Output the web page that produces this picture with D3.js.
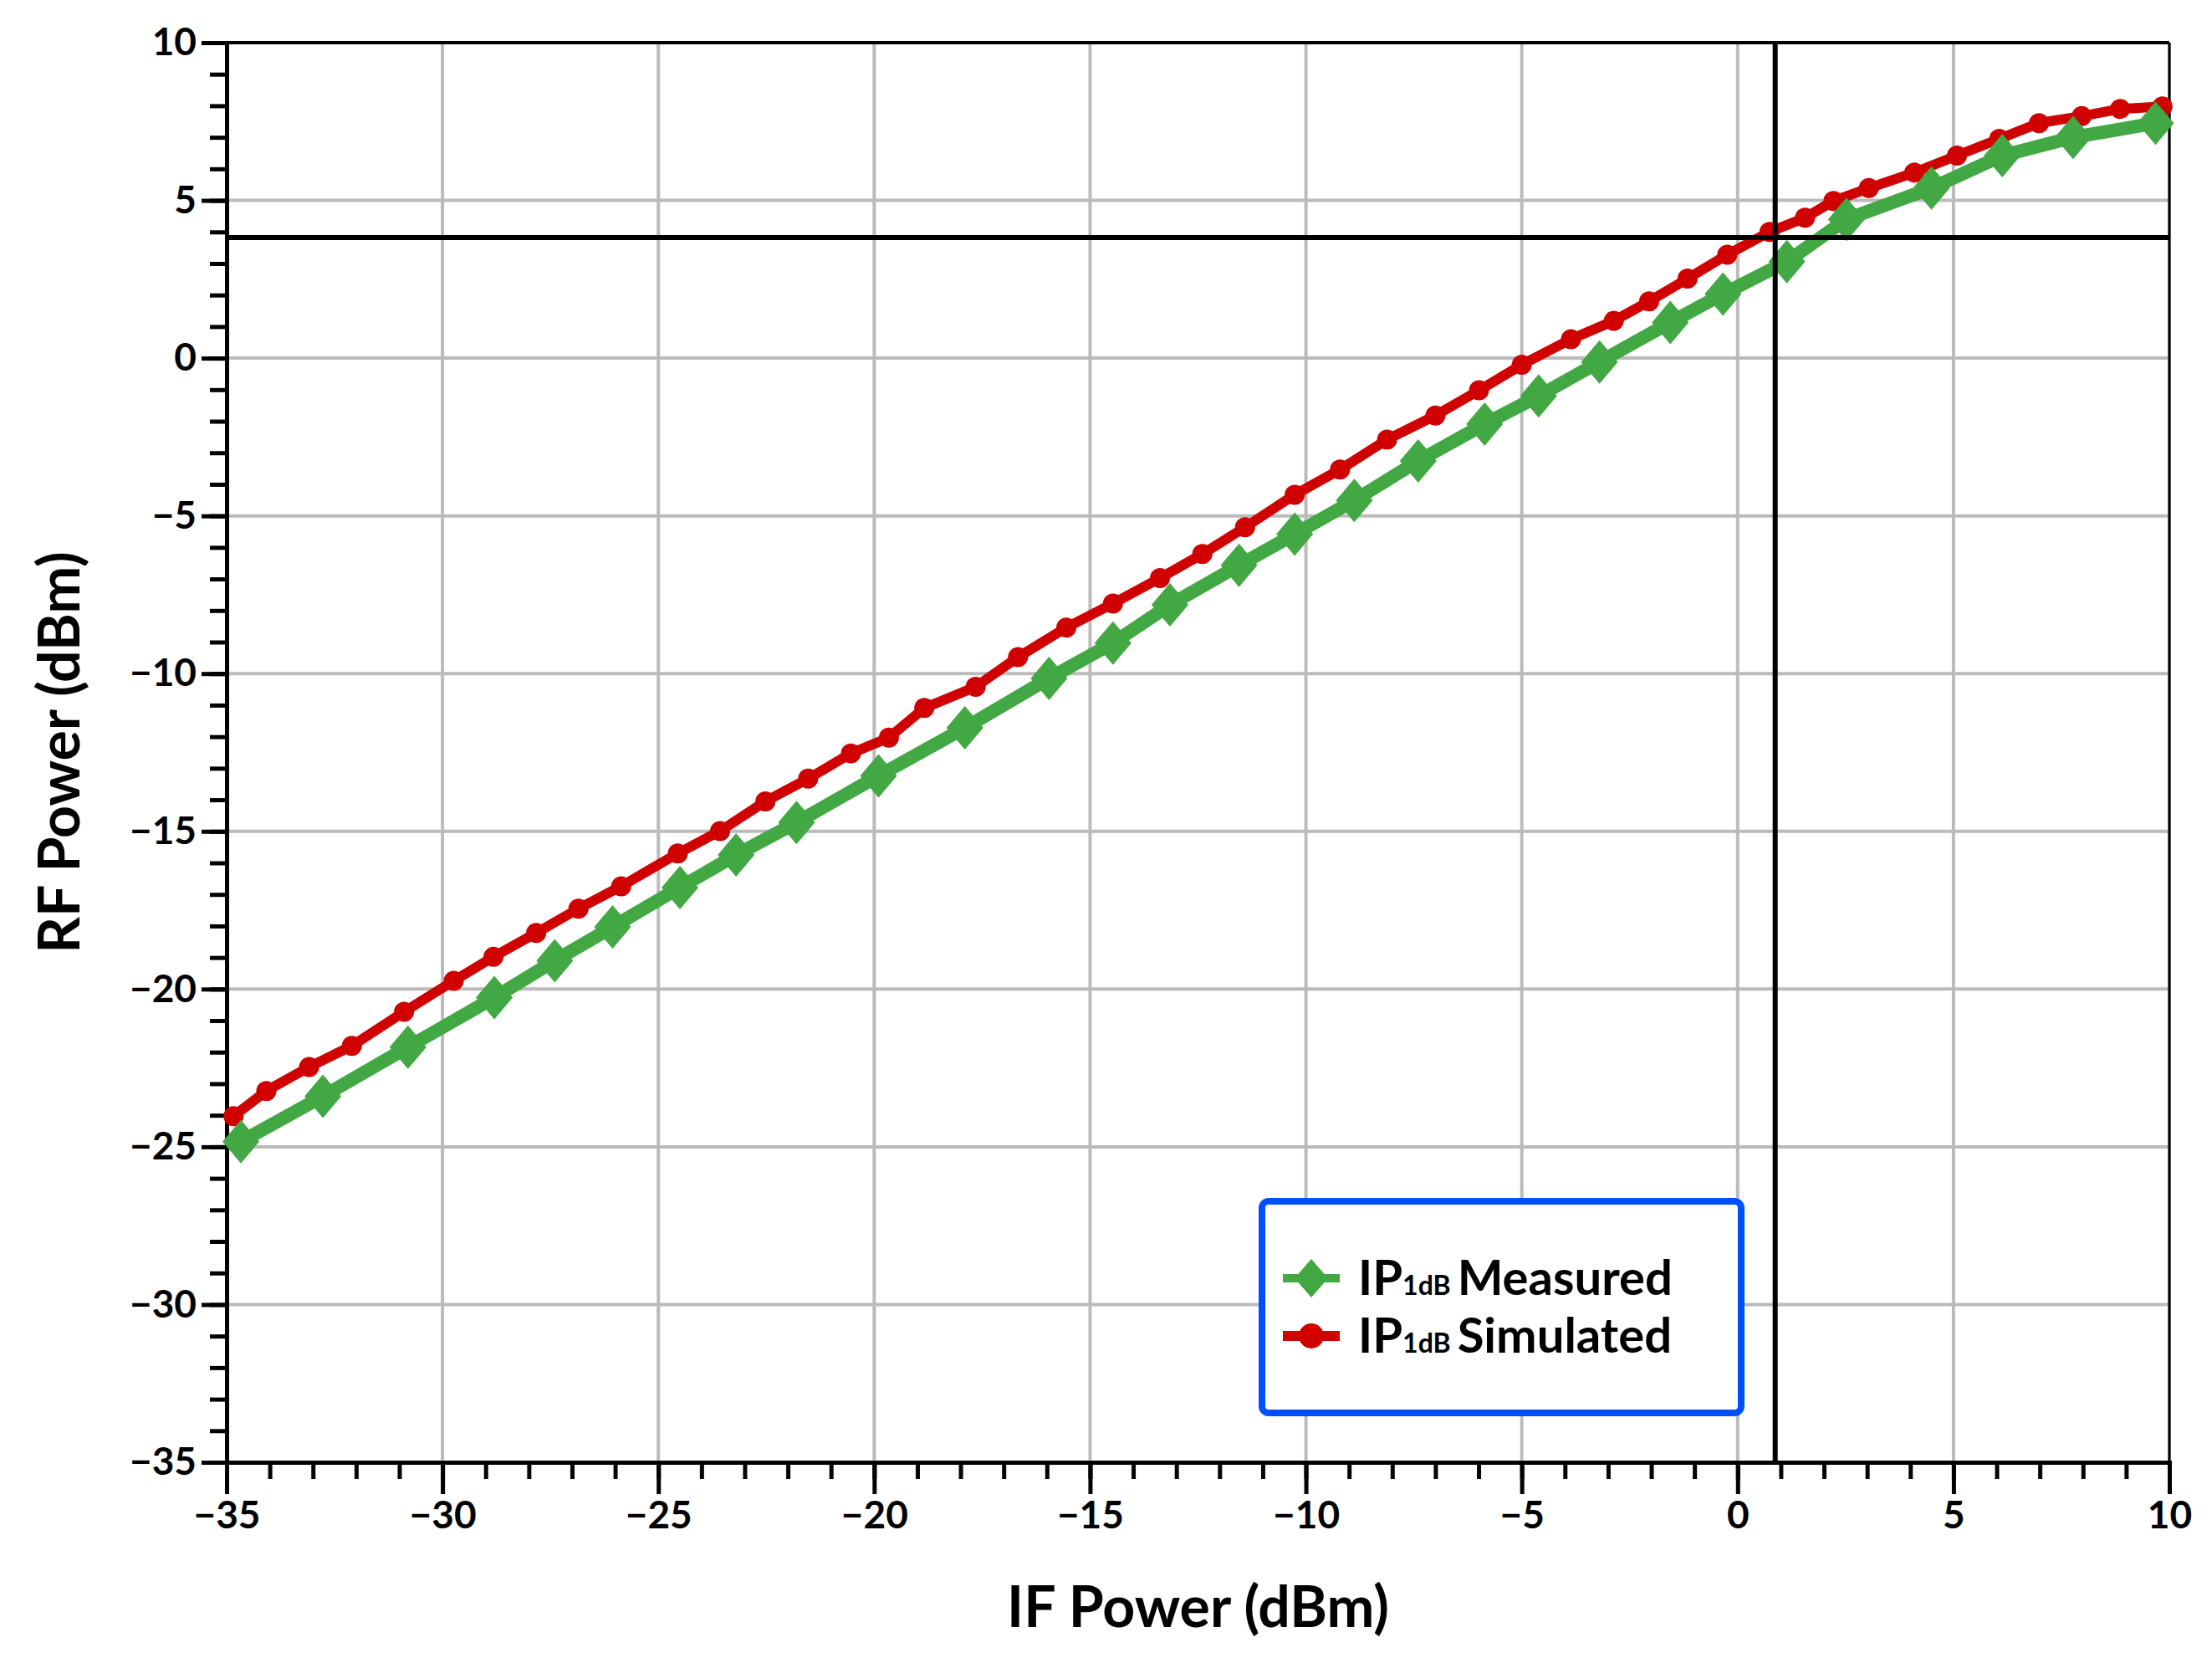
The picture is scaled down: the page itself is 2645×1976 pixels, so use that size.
<!DOCTYPE html>
<html>
<head>
<meta charset="utf-8">
<script src="https://cdn.jsdelivr.net/npm/d3@7"></script>
<style>
  body { margin: 0; background: #fff; }
  text { font-family: Lato, "Open Sans", sans-serif; font-weight: bold; }
</style>
</head>
<body>
<svg id="chart" width="2645" height="1976"></svg>
<script>
// measured IP1dB (green diamonds)
const measuredX = [-34.67, -32.77, -30.8, -28.8, -27.4, -26.06, -24.5, -23.2, -21.8, -19.9, -17.9, -15.95, -14.47, -13.15, -11.55, -10.26, -8.88, -7.4, -5.86, -4.61, -3.2, -1.56, -0.34, 1.14, 2.52, 4.49, 6.13, 7.77, 9.68];
const measuredY = [-24.84, -23.4, -21.84, -20.27, -19.1, -18.03, -16.78, -15.75, -14.72, -13.24, -11.72, -10.15, -9.03, -7.82, -6.57, -5.58, -4.51, -3.26, -2.09, -1.2, -0.12, 1.13, 2.03, 3.06, 4.4, 5.39, 6.42, 7.0, 7.45];

// simulated IP1dB (red dots)
const simulatedX = [-34.84, -34.08, -33.09, -32.1, -30.89, -29.74, -28.82, -27.83, -26.85, -25.86, -24.55, -23.57, -22.52, -21.53, -20.54, -19.66, -18.84, -17.65, -16.67, -15.55, -14.47, -13.38, -12.4, -11.41, -10.26, -9.21, -8.12, -7.0, -5.99, -5.0, -3.86, -2.87, -2.05, -1.16, -0.24, 0.74, 1.56, 2.22, 3.04, 4.09, 5.08, 6.06, 6.98, 7.97, 8.86, 9.84];
const simulatedY = [-24.03, -23.23, -22.47, -21.8, -20.72, -19.74, -18.98, -18.22, -17.45, -16.74, -15.7, -14.99, -14.05, -13.33, -12.53, -12.03, -11.09, -10.42, -9.48, -8.54, -7.78, -6.97, -6.21, -5.36, -4.33, -3.53, -2.58, -1.82, -1.02, -0.21, 0.6, 1.18, 1.8, 2.52, 3.28, 4.0, 4.45, 4.98, 5.39, 5.88, 6.42, 6.95, 7.45, 7.67, 7.9, 7.98];

const xTicks = [-35, -30, -25, -20, -15, -10, -5, 0, 5, 10];
const yTicks = [-35, -30, -25, -20, -15, -10, -5, 0, 5, 10];
const p1dbX = 0.87, p1dbY = 3.82;
const legendLabels = ["Measured", "Simulated"];

const svg = d3.select("#chart");
const m = { left: 271, right: 2594, top: 51, bottom: 1748 };
const x = d3.scaleLinear().domain([-35, 10]).range([m.left, m.right]);
const y = d3.scaleLinear().domain([-35, 10]).range([m.bottom, m.top]);

// grid
svg.append("g").selectAll("line").data(xTicks.slice(1)).join("line")
  .attr("x1", d => x(d)).attr("x2", d => x(d)).attr("y1", m.top).attr("y2", m.bottom)
  .attr("stroke", "#bbb").attr("stroke-width", 4);
svg.append("g").selectAll("line").data(yTicks.slice(1)).join("line")
  .attr("x1", m.left).attr("x2", m.right).attr("y1", d => y(d)).attr("y2", d => y(d))
  .attr("stroke", "#bbb").attr("stroke-width", 4);

// axes
const minor = d3.range(-35, 10.01, 1);
const xAxisMinor = d3.axisBottom(x).tickValues(minor).tickSize(20).tickFormat("");
const xAxis = d3.axisBottom(x).tickValues(xTicks).tickSize(38).tickPadding(8);
const yAxisMinor = d3.axisLeft(y).tickValues(minor).tickSize(20).tickFormat("");
const yAxis = d3.axisLeft(y).tickValues(yTicks).tickSize(30).tickPadding(6);

function styleAxis(g) {
  g.selectAll("path, line").attr("stroke", "#000").attr("stroke-width", 5);
  g.selectAll("text").attr("font-size", 46).attr("fill", "#000");
}
svg.append("g").attr("transform", `translate(0,${m.bottom})`).call(xAxisMinor).call(styleAxis);
svg.append("g").attr("transform", `translate(0,${m.bottom})`).call(xAxis).call(styleAxis);
svg.append("g").attr("transform", `translate(${m.left},0)`).call(yAxisMinor).call(styleAxis);
svg.append("g").attr("transform", `translate(${m.left},0)`).call(yAxis).call(styleAxis);

// top/right frame
svg.append("line").attr("x1", m.left).attr("x2", m.right).attr("y1", m.top).attr("y2", m.top)
  .attr("stroke", "#000").attr("stroke-width", 4);
svg.append("line").attr("x1", m.right).attr("x2", m.right).attr("y1", m.top).attr("y2", m.bottom)
  .attr("stroke", "#000").attr("stroke-width", 3);

// axis titles
svg.append("text").attr("x", (m.left + m.right) / 2).attr("y", 1945)
  .attr("text-anchor", "middle").attr("font-size", 68).text("IF Power (dBm)");
svg.append("text").attr("transform", `translate(95,${(m.top + m.bottom) / 2}) rotate(-90)`)
  .attr("text-anchor", "middle").attr("font-size", 68).text("RF Power (dBm)");

const line = d3.line().x(d => x(d[0])).y(d => y(d[1]));
const sim = simulatedX.map((v, i) => [v, simulatedY[i]]);
const meas = measuredX.map((v, i) => [v, measuredY[i]]);

// simulated
svg.append("path").datum(sim).attr("d", line).attr("fill", "none")
  .attr("stroke", "#d00000").attr("stroke-width", 12);
svg.append("g").selectAll("circle").data(sim).join("circle")
  .attr("cx", d => x(d[0])).attr("cy", d => y(d[1])).attr("r", 12).attr("fill", "#d00000");

// measured
const diamond = "M0,-26 L22,0 L0,26 L-22,0 Z";
svg.append("path").datum(meas).attr("d", line).attr("fill", "none")
  .attr("stroke", "#41a843").attr("stroke-width", 16);
svg.append("g").selectAll("path").data(meas).join("path")
  .attr("transform", d => `translate(${x(d[0])},${y(d[1])})`).attr("d", diamond).attr("fill", "#41a843");

// 1 dB compression crosshair
svg.append("line").attr("x1", x(p1dbX)).attr("x2", x(p1dbX)).attr("y1", m.top).attr("y2", m.bottom)
  .attr("stroke", "#000").attr("stroke-width", 6);
svg.append("line").attr("x1", m.left).attr("x2", m.right).attr("y1", y(p1dbY)).attr("y2", y(p1dbY))
  .attr("stroke", "#000").attr("stroke-width", 6);

// legend
const lg = svg.append("g").attr("transform", "translate(1509,1436)");
lg.append("rect").attr("width", 573).attr("height", 253).attr("rx", 8)
  .attr("fill", "#fff").attr("stroke", "#0050ff").attr("stroke-width", 8);
const colors = ["#41a843", "#d00000"];
legendLabels.forEach((lab, i) => {
  const row = lg.append("g").attr("transform", `translate(0,${92 + i * 69})`);
  row.append("line").attr("x1", 25).attr("x2", 93).attr("stroke", colors[i]).attr("stroke-width", i ? 12 : 10);
  if (i === 0) row.append("path").attr("transform", "translate(59,0)").attr("d", "M0,-23 L20,0 L0,23 L-20,0 Z").attr("fill", colors[i]);
  else row.append("circle").attr("cx", 59).attr("r", 15).attr("fill", colors[i]);
  const t = row.append("text").attr("x", 115).attr("y", 20).attr("font-size", 58).attr("fill", "#000");
  t.append("tspan").text("IP");
  t.append("tspan").attr("font-size", 32).text("1dB");
  t.append("tspan").attr("dx", 8).text(lab);
});
</script>
</body>
</html>
